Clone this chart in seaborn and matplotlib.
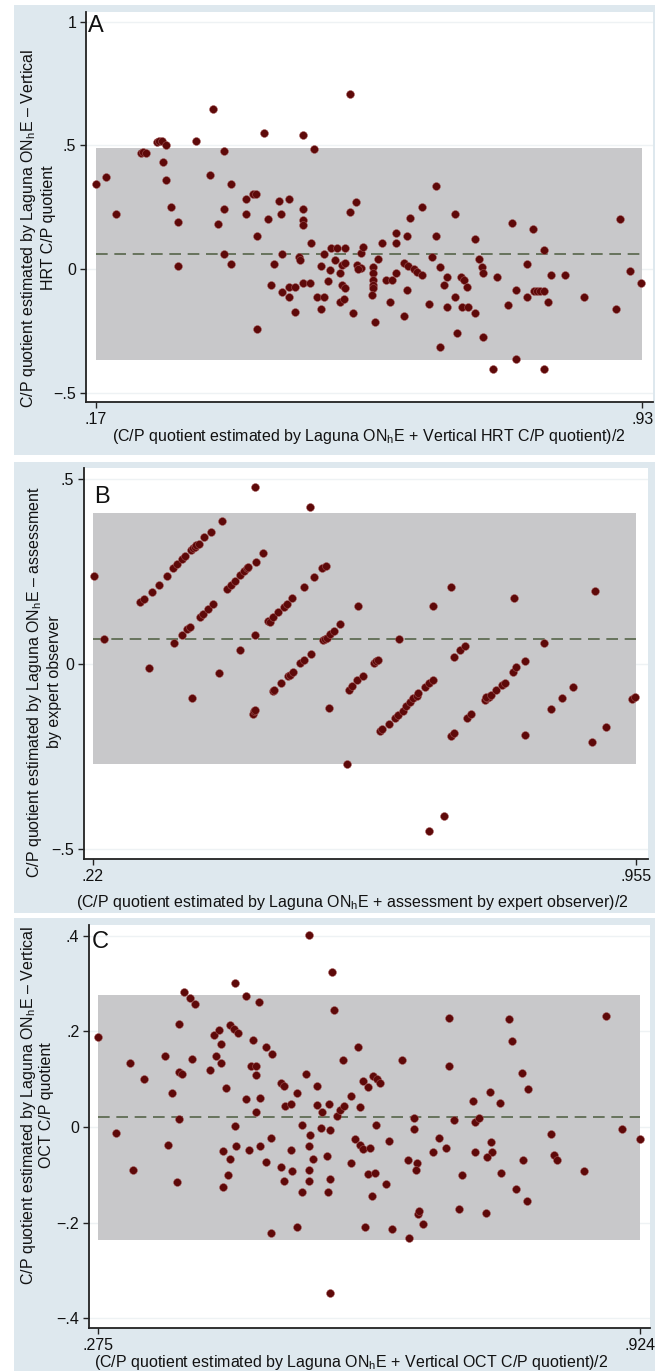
import matplotlib
matplotlib.use("Agg")
import matplotlib.pyplot as plt
from matplotlib.patches import Rectangle
import pandas as pd
import seaborn as sns

plt.rcParams['font.family'] = ['Liberation Sans', 'DejaVu Sans']
plt.rcParams['mathtext.fontset'] = 'custom'
plt.rcParams['mathtext.rm'] = 'Liberation Sans'

# ---- Panel A: Laguna ONhE vs vertical HRT ----
a_mean = [0.170, 0.184, 0.198, 0.232, 0.236, 0.240, 0.255, 0.258, 0.262, 0.268, 0.263, 0.268, 0.274,
          0.284, 0.284, 0.309, 0.328, 0.333, 0.339, 0.348, 0.348, 0.348, 0.358, 0.358, 0.379, 0.379,
          0.388, 0.392, 0.394, 0.394, 0.404, 0.409, 0.418, 0.414, 0.424, 0.428, 0.429, 0.429, 0.438,
          0.438, 0.447, 0.438, 0.447, 0.458, 0.458, 0.458, 0.458, 0.453, 0.454, 0.458, 0.468, 0.469,
          0.473, 0.483, 0.478, 0.487, 0.483, 0.487, 0.493, 0.497,
          0.524, 0.505, 0.517, 0.503, 0.512, 0.517, 0.496, 0.509, 0.512, 0.517, 0.510, 0.515, 0.528,
          0.523, 0.532, 0.533, 0.538, 0.535, 0.539, 0.542, 0.563, 0.556, 0.556, 0.556, 0.556, 0.556,
          0.554, 0.558, 0.568, 0.573, 0.582, 0.579, 0.588, 0.588, 0.588, 0.603, 0.603, 0.598, 0.607,
          0.599, 0.604, 0.612, 0.616, 0.623, 0.624, 0.633, 0.643, 0.643, 0.638, 0.649, 0.658, 0.654,
          0.658, 0.649, 0.669, 0.669, 0.678, 0.682, 0.686, 0.679, 0.687, 0.672, 0.698, 0.698, 0.703,
          0.707, 0.709, 0.709, 0.723, 0.728, 0.743, 0.749, 0.754, 0.754, 0.769, 0.769, 0.778, 0.779,
          0.784, 0.788, 0.794, 0.794, 0.799, 0.794, 0.803, 0.823, 0.849, 0.893, 0.899, 0.913, 0.928]
a_diff = [0.343, 0.372, 0.221, 0.470, 0.474, 0.470, 0.516, 0.520, 0.518, 0.500, 0.433, 0.359, 0.251,
          0.192, 0.013, 0.518, 0.381, 0.649, 0.184, 0.479, 0.243, 0.061, 0.343, 0.022, 0.282, 0.221,
          0.302, 0.302, 0.135, -0.244, 0.549, 0.204, 0.022, -0.066, 0.274, 0.223, 0.059, -0.094, 0.282,
          -0.074, -0.074, -0.113, -0.175, 0.541, 0.242, 0.200, 0.180, 0.047, 0.036, -0.055, -0.055, 0.105,
          0.487, 0.013, -0.113, -0.113, -0.162, 0.061, -0.047, 0.086,
          0.708, 0.087, 0.084, 0.036, 0.016, 0.023, -0.004, -0.018, -0.065, -0.078, -0.132, -0.123, -0.177,
          0.232, 0.273, 0.016, 0.005, -0.001, 0.063, 0.090, 0.039, 0.009, -0.018, -0.045, -0.065, -0.078,
          -0.105, -0.213, 0.107, -0.045, -0.045, -0.132, 0.144, 0.107, -0.015, 0.135, -0.085, -0.190, 0.205,
          0.023, 0.012, -0.001, -0.011, -0.026, 0.252, -0.142, 0.336, 0.135, 0.047, 0.007, -0.034, -0.065,
          -0.152, -0.314, 0.223, -0.112, -0.034, -0.045, -0.072, -0.152, -0.155, -0.260, 0.121, -0.177, 0.039,
          0.009, -0.015, -0.274, -0.406, -0.034, -0.146, 0.185, -0.085, -0.362, 0.020, -0.112, 0.161, -0.090,
          -0.088, -0.088, -0.090, 0.077, -0.132, -0.406, -0.026, -0.026, -0.115, -0.163, 0.204, -0.007, -0.055]
a_limits = [-0.368, 0.061, 0.490]   # lower LoA, mean difference, upper LoA
a_xticks = [0.17, 0.93]
a_xticklabels = ['.17', '.93']
a_yticks = [-0.5, 0, 0.5, 1]
a_yticklabels = ['\u2212.5', '0', '.5', '1']

# ---- Panel B: Laguna ONhE vs expert observer ----
b_mean = [0.221, 0.235, 0.296, 0.354, 0.391, 0.419, 0.439, 0.439, 0.514,
          0.284, 0.289, 0.300, 0.310, 0.320, 0.329, 0.334, 0.340, 0.344, 0.353, 0.356, 0.358, 0.360,
          0.363, 0.371, 0.380, 0.395,
          0.330, 0.340, 0.348, 0.352, 0.365, 0.369, 0.376, 0.383, 0.401, 0.407, 0.412, 0.419, 0.424,
          0.428, 0.430, 0.441, 0.450,
          0.457, 0.459, 0.464, 0.471, 0.478, 0.482, 0.490, 0.505, 0.519, 0.530, 0.535,
          0.436, 0.438, 0.439, 0.464, 0.465, 0.475, 0.484, 0.487, 0.491, 0.500, 0.505, 0.515,
          0.532, 0.534, 0.537, 0.541, 0.546, 0.554,
          0.540, 0.564, 0.579, 0.634,
          0.566, 0.570, 0.577, 0.585,
          0.600, 0.603, 0.606,
          0.608, 0.611, 0.621, 0.629, 0.633, 0.639, 0.644, 0.649, 0.653, 0.658, 0.660, 0.669, 0.675, 0.680,
          0.680, 0.705, 0.675, 0.695,
          0.708, 0.717, 0.723,
          0.705, 0.708, 0.726, 0.732,
          0.750, 0.753, 0.756, 0.752, 0.759, 0.766, 0.773, 0.777,
          0.788, 0.792, 0.804,
          0.790, 0.805, 0.830, 0.840, 0.854, 0.869, 0.899, 0.895, 0.914, 0.950, 0.953]
b_diff = [0.238, 0.068, -0.012, -0.093, -0.023, 0.038, 0.479, 0.079, 0.426,
          0.169, 0.176, 0.196, 0.214, 0.238, 0.259, 0.270, 0.284, 0.293, 0.309, 0.314, 0.318, 0.322,
          0.325, 0.343, 0.359, 0.388,
          0.058, 0.079, 0.094, 0.101, 0.128, 0.136, 0.148, 0.164, 0.202, 0.214, 0.225, 0.241, 0.253,
          0.259, 0.264, 0.277, 0.300,
          0.117, 0.115, 0.128, 0.142, 0.155, 0.164, 0.178, 0.208, 0.237, 0.259, 0.266,
          -0.134, -0.127, -0.125, -0.072, -0.070, -0.051, -0.033, -0.030, -0.021, 0.002, 0.011, 0.027,
          0.064, 0.068, 0.071, 0.081, 0.090, 0.108,
          -0.120, -0.271, 0.157, 0.067,
          -0.070, -0.060, -0.043, -0.033,
          0.004, 0.009, 0.012,
          -0.181, -0.176, -0.163, -0.147, -0.138, -0.126, -0.114, -0.102, -0.093, -0.087, -0.079, -0.063,
          -0.051, -0.043,
          0.157, 0.210, -0.452, -0.412,
          0.018, 0.038, 0.049,
          -0.195, -0.186, -0.147, -0.134,
          -0.098, -0.093, -0.089, -0.090, -0.084, -0.070, -0.057, -0.050,
          -0.021, -0.007, 0.009,
          0.178, -0.191, 0.058, -0.123, -0.093, -0.063, 0.198, -0.210, -0.170, -0.096, -0.090]
b_limits = [-0.270, 0.068, 0.410]
b_xticks = [0.22, 0.955]
b_xticklabels = ['.22', '.955']
b_yticks = [-0.5, 0, 0.5]
b_yticklabels = ['\u2212.5', '0', '.5']

# ---- Panel C: Laguna ONhE vs vertical OCT ----
c_mean = [0.275, 0.297, 0.314, 0.317, 0.330, 0.355, 0.359, 0.364, 0.370, 0.372, 0.372, 0.376, 0.372,
          0.378, 0.385, 0.391, 0.388, 0.410, 0.414, 0.420, 0.416, 0.422, 0.422, 0.425, 0.425, 0.429,
          0.433, 0.431, 0.439, 0.433, 0.438, 0.443, 0.439, 0.441, 0.452, 0.453, 0.456, 0.458, 0.465,
          0.461, 0.465, 0.465, 0.468, 0.469, 0.469, 0.477, 0.484, 0.477, 0.482, 0.482, 0.494, 0.498,
          0.494, 0.498, 0.499, 0.506, 0.506, 0.507, 0.513, 0.514, 0.519, 0.519, 0.524, 0.528, 0.529,
          0.528, 0.528, 0.528, 0.533, 0.537, 0.537, 0.543, 0.542, 0.549, 0.551, 0.552, 0.553, 0.553,
          0.553, 0.556, 0.558,
          0.569, 0.578, 0.561, 0.565, 0.570, 0.578, 0.586, 0.589, 0.583, 0.589, 0.593, 0.601, 0.592,
          0.599, 0.605, 0.609, 0.613, 0.608, 0.599, 0.607, 0.603, 0.595, 0.620, 0.624, 0.627, 0.639,
          0.646, 0.653, 0.653, 0.657, 0.656, 0.647, 0.658, 0.660, 0.664, 0.676, 0.683, 0.692, 0.695,
          0.695, 0.702, 0.711, 0.707, 0.724, 0.726, 0.731, 0.726, 0.744, 0.746, 0.747, 0.741, 0.740,
          0.756, 0.758, 0.767, 0.771, 0.776, 0.783, 0.790, 0.784, 0.789, 0.818, 0.821, 0.825, 0.857,
          0.883, 0.903, 0.924]
c_diff = [0.189, -0.013, 0.133, -0.091, 0.100, 0.149, -0.038, 0.072, -0.116, 0.215, 0.116, 0.111, 0.017,
          0.282, 0.269, 0.257, 0.142, 0.119, 0.192, 0.203, 0.149, 0.133, 0.174, -0.050, -0.125, 0.082,
          -0.066, -0.100, 0.302, 0.213, 0.206, 0.196, 0.003, -0.040, 0.059, 0.275, -0.048, 0.128, 0.128,
          0.181, 0.109, 0.031, 0.261, 0.061, -0.039, 0.167, 0.153, -0.074, -0.022, -0.222, 0.093, 0.086,
          -0.083, -0.114, 0.043, 0.048, -0.048, -0.093, 0.072, -0.209, 0.004, -0.137, 0.111, 0.402, -0.017,
          -0.039, -0.091, -0.114, -0.066, 0.086, 0.046, 0.032, -0.003, -0.061, -0.135, 0.048, -0.006, -0.109,
          -0.348, 0.324, 0.245,
          0.140, 0.065, 0.022, 0.036, 0.044, -0.076, 0.168, 0.041, -0.026, -0.038, -0.047, -0.043, 0.096,
          0.083, 0.107, 0.100, 0.093, 0.004, -0.098, -0.096, -0.144, -0.209, -0.119, -0.029, -0.214, 0.140,
          -0.069, 0.018, -0.005, -0.076, -0.090, -0.233, -0.181, -0.175, -0.203, -0.052, -0.024, -0.043, 0.229,
          0.128, 0.015, -0.100, -0.172, 0.054, 0.011, 0.018, -0.052, 0.074, -0.031, -0.052, -0.063, -0.179,
          0.051, -0.096, 0.226, 0.180, -0.130, 0.114, 0.079, -0.068, -0.154, -0.015, -0.059, -0.069, -0.093,
          0.233, -0.005, -0.026]
c_limits = [-0.236, 0.021, 0.276]
c_xticks = [0.275, 0.924]
c_xticklabels = ['.275', '.924']
c_yticks = [-0.4, -0.2, 0, 0.2, 0.4]
c_yticklabels = ['\u2212.4', '\u2212.2', '0', '.2', '.4']

ONHE = r'ON$_\mathregular{h}$E'
labels = {
    'A': (['C/P quotient estimated by Laguna ' + ONHE + ' \u2013 Vertical', 'HRT C/P quotient'],
          '(C/P quotient estimated by Laguna ' + ONHE + ' + Vertical HRT C/P quotient)/2'),
    'B': (['C/P quotient estimated by Laguna ' + ONHE + ' \u2013 assessment', 'by expert observer'],
          '(C/P quotient estimated by Laguna ' + ONHE + ' + assessment by expert observer)/2'),
    'C': (['C/P quotient estimated by Laguna ' + ONHE + ' \u2013 Vertical', 'OCT C/P quotient'],
          '(C/P quotient estimated by Laguna ' + ONHE + ' + Vertical OCT C/P quotient)/2'),
}

W, H = 659, 1371
BG = '#dee8ee'
DOT = '#5e0909'
BAND = '#c8c8ca'
MEAN_COL = '#56654a'
FS = 11.5


def fx(px):
    return px / W


def fy(py):
    return 1 - py / H


fig = plt.figure(figsize=(W / 100, H / 100), dpi=100)
fig.patch.set_facecolor('white')

# light blue-grey panel backgrounds (one per sub-figure), kept behind the axes
for top, bottom in [(5, 455), (462, 913), (918, 1371)]:
    fig.patches.append(Rectangle((fx(14), fy(bottom)), fx(655) - fx(14), fy(top) - fy(bottom),
                                 transform=fig.transFigure, facecolor=BG, edgecolor='none', zorder=-5))

panels = [
    # letter, data, limits, ticks, axes box (px), axis limits, ylabel line x's + y, xlabel pos, letter pos
    ('A', a_mean, a_diff, a_limits, a_xticks, a_xticklabels, a_yticks, a_yticklabels,
     (86, 653, 12, 402), (0.156, 0.945), (-0.538, 1.040), (29, 48, 228), (369, 437), (88, 15)),
    ('B', b_mean, b_diff, b_limits, b_xticks, b_xticklabels, b_yticks, b_yticklabels,
     (84, 648, 468, 859), (0.208, 0.971), (-0.528, 0.531), (35, 54, 682), (352, 903), (94, 486)),
    ('C', c_mean, c_diff, c_limits, c_xticks, c_xticklabels, c_yticks, c_yticklabels,
     (89, 650, 925, 1328), (0.2646, 0.936), (-0.4205, 0.4226), (29, 47, 1105), (351, 1362), (92, 931)),
]

for (letter, xm, yd, lim, xt, xtl, yt, ytl, box, xlim, ylim, ylpos, xlpos, letpos) in panels:
    left, right, top, bottom = box
    ax = fig.add_axes([fx(left), fy(bottom), fx(right) - fx(left), fy(top) - fy(bottom)])
    ax.set_facecolor('white')
    df = pd.DataFrame({'mean': xm, 'diff': yd})

    # faint grid lines at y labels
    for v in yt:
        ax.axhline(v, color='#eef2f4', lw=1.0, zorder=0)

    # limits of agreement band and mean difference
    ax.fill_between([xt[0], xt[1]], lim[0], lim[2], color=BAND, lw=0, zorder=1)
    ax.plot([xt[0], xt[1]], [lim[1], lim[1]], color=MEAN_COL, lw=1.2, ls=(0, (7, 4)), zorder=2)

    sns.scatterplot(data=df, x='mean', y='diff', ax=ax, color=DOT, s=32,
                    edgecolor='#a65c5c', linewidth=0.35, zorder=3, legend=False)

    ax.set_xlim(*xlim)
    ax.set_ylim(*ylim)
    ax.set_xticks(xt)
    ax.set_xticklabels(xtl)
    ax.set_yticks(yt)
    ax.set_yticklabels(ytl)
    ax.set_xlabel('')
    ax.set_ylabel('')
    for s in ['top', 'right']:
        ax.spines[s].set_visible(False)
    for s in ['left', 'bottom']:
        ax.spines[s].set_color('#222222')
        ax.spines[s].set_linewidth(1.3)
    ax.tick_params(direction='out', length=4, width=1, color='#222222',
                   labelsize=FS, labelcolor='#111111', pad=3)

    ylines, xlab = labels[letter]
    for line, lx in zip(ylines, ylpos[:2]):
        fig.text(fx(lx), fy(ylpos[2]), line, rotation=90, ha='center', va='center',
                 fontsize=FS, color='#111111')
    fig.text(fx(xlpos[0]), fy(xlpos[1]), xlab, ha='center', va='center',
             fontsize=FS, color='#111111')
    fig.text(fx(letpos[0]), fy(letpos[1]), letter, ha='left', va='top',
             fontsize=17, color='#111111')

fig.savefig('out.png', dpi=100, facecolor=fig.get_facecolor())
